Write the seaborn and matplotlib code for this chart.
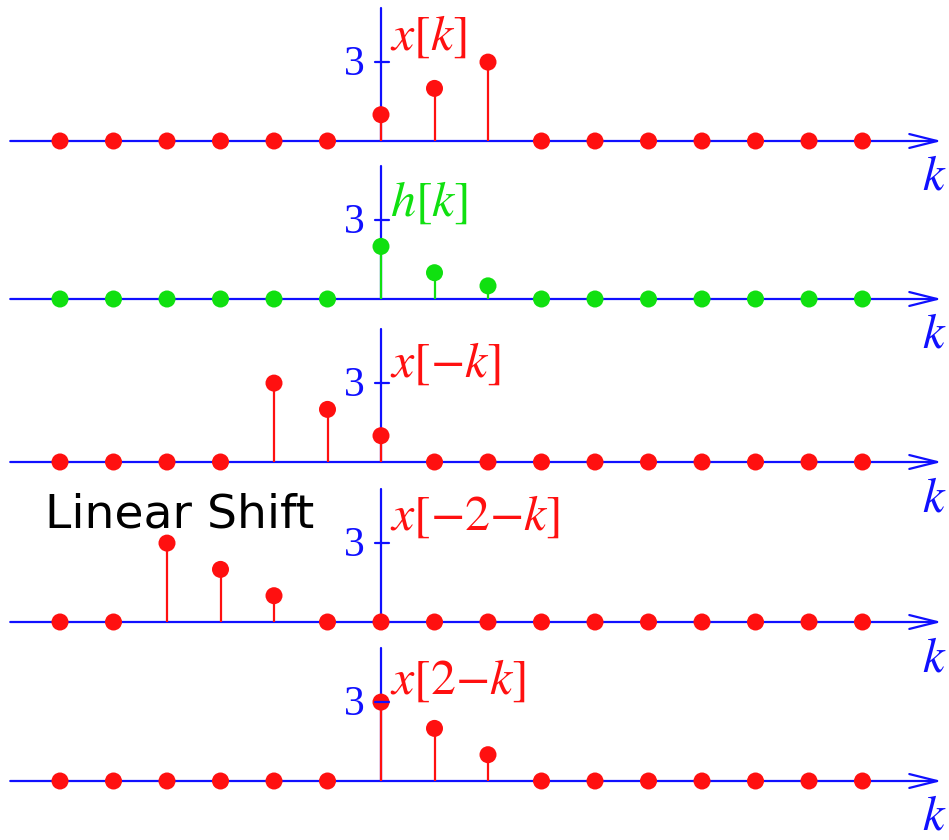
import matplotlib
matplotlib.use("Agg")
import matplotlib.pyplot as plt
import numpy as np
import pandas as pd
import seaborn as sns

# Sample index and the five sequences
k = [-6, -5, -4, -3, -2, -1, 0, 1, 2, 3, 4, 5, 6, 7, 8, 9]
x_k = [0, 0, 0, 0, 0, 0, 1, 2, 3, 0, 0, 0, 0, 0, 0, 0]
h_k = [0, 0, 0, 0, 0, 0, 2, 1, 0.5, 0, 0, 0, 0, 0, 0, 0]
x_neg_k = [0, 0, 0, 0, 3, 2, 1, 0, 0, 0, 0, 0, 0, 0, 0, 0]
x_neg2_k = [0, 0, 3, 2, 1, 0, 0, 0, 0, 0, 0, 0, 0, 0, 0, 0]
x_2_k = [0, 0, 0, 0, 0, 0, 3, 2, 1, 0, 0, 0, 0, 0, 0, 0]

series = [x_k, h_k, x_neg_k, x_neg2_k, x_2_k]
labels = [r"$x[k]$", r"$h[k]$", r"$x[-k]$", r"$x[-2{-}k]$", r"$x[2{-}k]$"]
label_y = [4.0, 3.7, 3.76, 4.03, 3.84]
RED = "#ff1010"
GREEN = "#10e010"
BLUE = "#1010ff"
colors = [RED, GREEN, RED, RED, RED]
tick_value = 3

sns.set_style("white")
plt.rcParams["mathtext.fontset"] = "stix"
plt.rcParams["font.family"] = ["DejaVu Sans"]

W, H = 949, 840
fig = plt.figure(figsize=(W / 100, H / 100), dpi=100)

PX = 53.5      # pixels per sample
UNIT = 26.3    # pixels per amplitude unit
K0 = 381       # pixel column of k = 0
baselines = [141, 299, 462, 622, 781]

for vals, lab, ly, col, base in zip(series, labels, label_y, colors, baselines):
    ax = fig.add_axes([0, 1 - (base + 19) / H, 1, 160 / H])
    ax.set_xlim(-K0 / PX, (W - K0) / PX)
    ax.set_ylim(-19 / UNIT, 141 / UNIT)
    ax.axis("off")
    ax.patch.set_visible(False)

    # horizontal axis with arrow
    ax.annotate("", xy=(10.48, 0), xytext=(-6.93, 0),
                arrowprops=dict(arrowstyle="->,head_length=2.0,head_width=0.5",
                                color=BLUE, lw=1.6, shrinkA=0, shrinkB=0),
                annotation_clip=False, zorder=1)
    # vertical axis and tick
    ax.plot([0, 0], [0, 5.05], color=BLUE, lw=1.6, zorder=1)
    ax.text(-0.31, tick_value - 0.1, "3", color=BLUE, fontsize=30, ha="right",
            va="center", family="Liberation Serif")

    df = pd.DataFrame({"k": k, "v": vals})
    nz = df[df["v"] != 0]
    ax.vlines(nz["k"], 0, nz["v"], color=col, lw=1.6, zorder=2)
    sns.scatterplot(data=df, x="k", y="v", ax=ax, color=col, s=150,
                    edgecolor="none", zorder=3, legend=False)
    ax.plot([-6 / PX, 8 / PX], [tick_value, tick_value], color=BLUE, lw=1.6, zorder=4)
    ax.set_xlim(-K0 / PX, (W - K0) / PX)
    ax.set_ylim(-19 / UNIT, 141 / UNIT)

    ax.text(0.17, ly, lab, color=col, fontsize=36, ha="left", va="center")
    ax.text(10.34, -35 / UNIT, r"$k$", color=BLUE, fontsize=35, ha="center",
            va="center")

fig.text(45 / W, 1 - 515 / H, "Linear Shift", fontsize=34, color="black",
         ha="left", va="center")

fig.savefig("out.png", dpi=100)
